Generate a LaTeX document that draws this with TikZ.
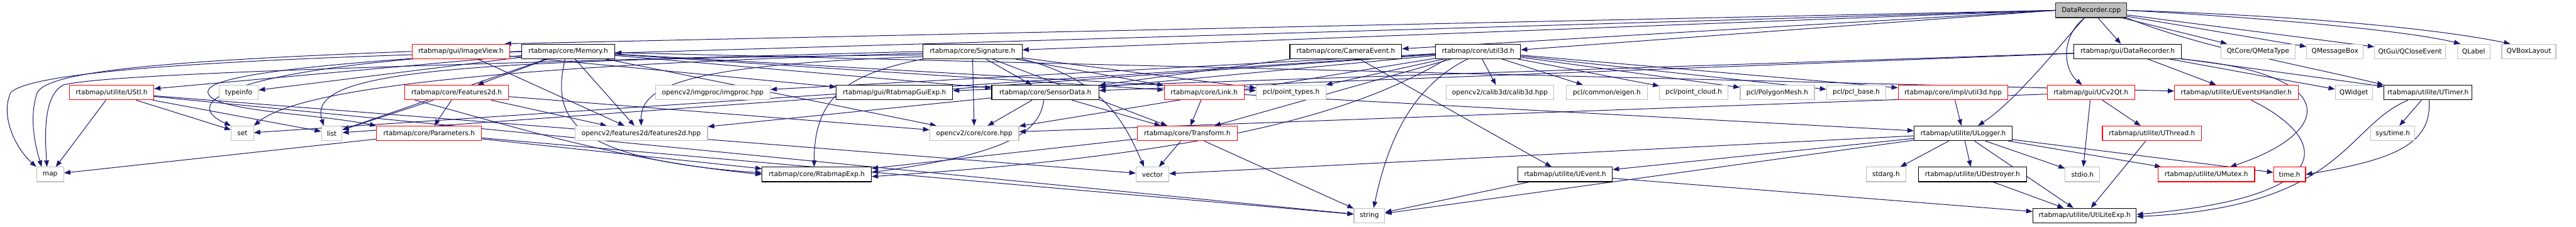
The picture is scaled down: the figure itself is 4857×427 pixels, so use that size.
\documentclass[tikz,border=0pt]{standalone}
\usepackage{fontspec}
\setmainfont{DejaVu Sans}
\usetikzlibrary{arrows.meta}
\definecolor{edgec}{HTML}{191970}
\definecolor{grayb}{HTML}{BFBFBF}
\definecolor{rootf}{HTML}{BFBFBF}
\pgfdeclarelayer{bg}
\pgfsetlayers{bg,main}
\begin{document}
\begin{tikzpicture}[x=1pt,y=-1pt,
 nd/.style={rectangle,draw,line width=1.3pt,minimum height=27.5pt,inner sep=0pt,font=\fontsize{12.5}{15}\selectfont,text=black,fill=white},
 blk/.style={nd,draw=black},
 redb/.style={nd,draw=red},
 gryb/.style={nd,draw=grayb},
 rootb/.style={nd,draw=black!85,fill=rootf},
 lnk/.style={draw=edgec,line width=1.2pt,-{Triangle[length=12pt,width=9pt]}}]
\useasboundingbox (0,0) rectangle (4857,427);
% row 0
\node[rootb,minimum width=134pt] (drc) at (3943,19.5) {DataRecorder.cpp};
% row 1
\node[redb,minimum width=184pt] (imageview) at (869,97) {rtabmap/gui/ImageView.h};
\node[blk,minimum width=175pt] (memory) at (1071.5,97) {rtabmap/core/Memory.h};
\node[blk,minimum width=187pt] (signature) at (1833.5,97) {rtabmap/core/Signature.h};
\node[blk,minimum width=211pt] (cameraevent) at (2537.5,97) {rtabmap/core/CameraEvent.h};
\node[blk,minimum width=160pt] (util3d) at (2787,97) {rtabmap/core/util3d.h};
\node[blk,minimum width=203pt] (drh) at (4011.5,97) {rtabmap/gui/DataRecorder.h};
\node[gryb,minimum width=139pt] (qmeta) at (4257.5,97) {QtCore/QMetaType};
\node[gryb,minimum width=107pt] (qmsg) at (4402.5,97) {QMessageBox};
\node[gryb,minimum width=134pt] (qclose) at (4544,97) {QtGui/QCloseEvent};
\node[gryb,minimum width=62pt] (qlabel) at (4664,97) {QLabel};
\node[gryb,minimum width=102pt] (qvbox) at (4768,97) {QVBoxLayout};
% row 2
\node[redb,minimum width=159pt] (ustl) at (210.5,174.5) {rtabmap/utilite/UStl.h};
\node[gryb,minimum width=74pt] (typeinfo) at (450,174.5) {typeinfo};
\node[redb,minimum width=196pt] (features2d) at (861,174.5) {rtabmap/core/Features2d.h};
\node[gryb,minimum width=216pt] (imgproc) at (1344,174.5) {opencv2/imgproc/imgproc.hpp};
\node[blk,minimum width=219pt] (guiexp) at (1686.5,174.5) {rtabmap/gui/RtabmapGuiExp.h};
\node[blk,minimum width=202pt] (sensordata) at (1971,174.5) {rtabmap/core/SensorData.h};
\node[redb,minimum width=151pt] (link) at (2270.5,174.5) {rtabmap/core/Link.h};
\node[gryb,minimum width=131pt] (pointtypes) at (2434.5,174.5) {pcl/point\_types.h};
\node[gryb,minimum width=202pt] (calib3d) at (2828,174.5) {opencv2/calib3d/calib3d.hpp};
\node[gryb,minimum width=153pt] (eigen) at (3029.5,174.5) {pcl/common/eigen.h};
\node[gryb,minimum width=129pt] (pointcloud) at (3193.5,174.5) {pcl/point\_cloud.h};
\node[gryb,minimum width=140pt] (polymesh) at (3351,174.5) {pcl/PolygonMesh.h};
\node[gryb,minimum width=112pt] (pclbase) at (3500,174.5) {pcl/pcl\_base.h};
\node[redb,minimum width=207pt] (util3dhpp) at (3682.5,174.5) {rtabmap/core/impl/util3d.hpp};
\node[redb,minimum width=165pt] (ucv2qt) at (3942.5,174.5) {rtabmap/gui/UCv2Qt.h};
\node[redb,minimum width=233pt] (ueh) at (4216.5,174.5) {rtabmap/utilite/UEventsHandler.h};
\node[gryb,minimum width=70pt] (qwidget) at (4438,174.5) {QWidget};
\node[blk,minimum width=166pt] (utimer) at (4578,174.5) {rtabmap/utilite/UTimer.h};
% row 3
\node[gryb,minimum width=42pt] (set) at (457,251.5) {set};
\node[gryb,minimum width=39pt] (list) at (625.5,251.5) {list};
\node[redb,minimum width=198pt] (parameters) at (809,251.5) {rtabmap/core/Parameters.h};
\node[gryb,minimum width=250pt] (f2dhpp) at (1209,251.5) {opencv2/features2d/features2d.hpp};
\node[gryb,minimum width=168pt] (corehpp) at (1837,251.5) {opencv2/core/core.hpp};
\node[redb,minimum width=189pt] (transform) at (2238.5,251.5) {rtabmap/core/Transform.h};
\node[blk,minimum width=185pt] (ulogger) at (3701.5,251.5) {rtabmap/utilite/ULogger.h};
\node[redb,minimum width=187pt] (uthread) at (4057.5,251.5) {rtabmap/utilite/UThread.h};
\node[gryb,minimum width=83pt] (systime) at (4511.5,251.5) {sys/time.h};
% row 4
\node[gryb,minimum width=51pt] (map) at (94.5,329) {map};
\node[blk,minimum width=206pt] (rtabexp) at (1540,329) {rtabmap/core/RtabmapExp.h};
\node[gryb,minimum width=62pt] (vector) at (2173,329) {vector};
\node[blk,minimum width=178pt] (uevent) at (2951,329) {rtabmap/utilite/UEvent.h};
\node[gryb,minimum width=74pt] (stdarg) at (3556,329) {stdarg.h};
\node[blk,minimum width=204pt] (udestroyer) at (3719,329) {rtabmap/utilite/UDestroyer.h};
\node[gryb,minimum width=65pt] (stdio) at (3926.5,329) {stdio.h};
\node[redb,minimum width=182pt] (umutex) at (4160,329) {rtabmap/utilite/UMutex.h};
\node[redb,minimum width=60pt] (timeh) at (4317,329) {time.h};
% row 5
\node[gryb,minimum width=58pt] (string) at (2582,406.5) {string};
\node[blk,minimum width=195pt] (utilexp) at (3930.5,406.5) {rtabmap/utilite/UtiLiteExp.h};

\begin{pgfonlayer}{bg}
% ---- DataRecorder.cpp
\draw[lnk] (drc) -- (drh);
\draw[lnk] (drc) -- (qmeta);
\draw[lnk] (drc) -- (qmsg);
\draw[lnk] (drc) -- (qclose);
\draw[lnk] (drc.east) .. controls (4300,35) and (4550,60) .. ([xshift=-25pt]qlabel.north);
\draw[lnk] (drc.east) .. controls (4350,30) and (4600,55) .. ([xshift=-35pt]qvbox.north);
\draw[lnk] (drc.south east) .. controls (4150,90) and (4350,125) .. (utimer.north west);
\draw[lnk] ([xshift=-13pt]drc.south) .. controls (3885,70) and (3890,130) .. ([xshift=-17pt]ucv2qt.north);
\draw[lnk] ([xshift=-13pt]drc.south) .. controls (3880,90) and (3800,190) .. ([xshift=28pt]ulogger.north);
\draw[lnk] (drc.west) -- ([yshift=-3pt]memory.east);
\draw[lnk] (drc.west) -- ([yshift=3pt]signature.east);
\draw[lnk] (drc.west) -- ([yshift=5pt]cameraevent.east);
\draw[lnk] (drc.west) -- ([yshift=3pt]util3d.east);
\draw[lnk] (drc.west) -- ([xshift=-10pt]imageview.north east);
% ---- DataRecorder.h
\draw[lnk] (drh) -- (guiexp);
\draw[lnk] (drh) -- (sensordata);
\draw[lnk] (drh) -- (ueh);
\draw[lnk] (drh) -- (qwidget);
\draw[lnk] (drh) -- (utimer);
\draw[lnk] (drh.south east) .. controls (4420,140) and (4400,250) .. ([xshift=45pt]umutex.north);
% ---- UEventsHandler, UTimer
\draw[lnk] ([xshift=28pt]ueh.south) .. controls (4390,260) and (4420,370) .. ([yshift=2pt]utilexp.east);
\draw[lnk] (utimer) -- (systime);
\draw[lnk] ([xshift=2pt]utimer.south) .. controls (4585,270) and (4520,300) .. (timeh.east);
\draw[lnk] ([xshift=-38pt]utimer.south) .. controls (4420,240) and (4420,390) .. ([yshift=-2pt]utilexp.east);
% ---- UCv2Qt, UThread
\draw[lnk] (ucv2qt) -- (stdio);
\draw[lnk] (ucv2qt) -- (uthread);
\draw[lnk] (ucv2qt) -- (corehpp);
\draw[lnk] (uthread) -- (utilexp);
% ---- ULogger
\draw[lnk] (ulogger) -- (stdarg);
\draw[lnk] (ulogger) -- (udestroyer);
\draw[lnk] (ulogger) -- (utilexp);
\draw[lnk] (ulogger) -- (stdio);
\draw[lnk] (ulogger) -- (umutex);
\draw[lnk] (ulogger) -- (timeh);
\draw[lnk] (ulogger) -- (uevent);
\draw[lnk] (ulogger) -- (string);
\draw[lnk] (ulogger) -- (vector);
\draw[lnk] (udestroyer) -- (utilexp);
\draw[lnk] (uevent) -- (string);
\draw[lnk] (uevent) -- (utilexp);
\draw[lnk] (util3dhpp) -- (ulogger);
% ---- Link, Transform, SensorData, CameraEvent
\draw[lnk] (link) -- (transform);
\draw[lnk] (link) -- (ulogger);
\draw[lnk] (transform) -- (vector);
\draw[lnk] (transform) -- (string);
\draw[lnk] (transform) -- (rtabexp);
\draw[lnk] (sensordata) -- (corehpp);
\draw[lnk] (sensordata) -- (transform);
\draw[lnk] (sensordata) -- (f2dhpp);
\draw[lnk] ([xshift=-3pt]sensordata.south) .. controls (1960,250) and (1900,290) .. ([yshift=4pt]rtabexp.east);
\draw[lnk] (cameraevent) -- (sensordata);
\draw[lnk] (cameraevent) -- (uevent);
% ---- Signature
\draw[lnk] (signature) -- (sensordata);
\draw[lnk] (signature) -- (corehpp);
\draw[lnk] (signature) -- (transform);
\draw[lnk] (signature.south east) .. controls (2080,150) and (2120,230) .. ([xshift=-16pt]vector.north);
\draw[lnk] (signature) -- (link);
\draw[lnk] (signature) -- (pointtypes);
\draw[lnk] (signature.south west) .. controls (1600,140) and (1535,180) .. ([xshift=-5pt]rtabexp.north);
\draw[lnk] (signature.186) .. controls (1300,122) and (1207,160) .. (f2dhpp.north);
\draw[lnk] (signature.184) .. controls (800,112) and (580,140) .. ([xshift=-15pt]list.north);
\draw[lnk] (signature.182) .. controls (900,125) and (560,170) .. (set.north east);
\draw[lnk] (signature.180) .. controls (700,125) and (200,140) .. (120,160) .. controls (80,180) and (85,260) .. ([xshift=-6pt]map.north);
% ---- Memory
\draw[lnk] (memory) -- (typeinfo);
\draw[lnk] (memory) -- (ustl);
\draw[lnk] (memory) -- (features2d);
\draw[lnk] (memory.west) .. controls (500,125) and (370,150) .. (395,180) .. controls (415,210) and (600,215) .. (parameters.north west);
\draw[lnk] (memory) -- (list);
\draw[lnk] (memory.west) .. controls (450,125) and (330,190) .. (set.north west);
\draw[lnk] (memory.west) .. controls (500,110) and (60,130) .. (20,175) .. controls (0,220) and (30,280) .. (map.north west);
\draw[lnk] (memory) -- (f2dhpp);
\draw[lnk] (memory) -- (corehpp);
\draw[lnk] ([xshift=-6pt]memory.south) .. controls (1040,220) and (1070,300) .. ([yshift=3pt]rtabexp.west);
\draw[lnk] (memory) -- (sensordata);
\draw[lnk] (memory) -- (link);
\draw[lnk] (memory) -- (pointtypes);
\draw[lnk] (memory) -- (ueh);
% ---- ImageView
\draw[lnk] (imageview) -- (guiexp);
\draw[lnk] (imageview) -- (f2dhpp);
\draw[lnk] (imageview.west) .. controls (300,115) and (90,135) .. (70,175) .. controls (55,220) and (65,270) .. ([xshift=-16pt]map.north);
% ---- Features2d
\draw[lnk] (features2d) -- (parameters);
\draw[lnk] (features2d) -- (list);
\draw[lnk] (features2d) -- (f2dhpp);
\draw[lnk] (features2d) -- (corehpp);
\draw[lnk] ([xshift=20pt]features2d.south west) .. controls (960,235) and (1150,300) .. (rtabexp.west);
% ---- Parameters, UStl
\draw[lnk] (parameters) -- (map);
\draw[lnk] (parameters) -- (rtabexp);
\draw[lnk] (parameters) -- (string);
\draw[lnk] (ustl) -- (map);
\draw[lnk] (ustl) -- (set);
\draw[lnk] (ustl) -- (list);
\draw[lnk] (ustl) -- (vector);
\draw[lnk] (ustl) -- (string);
% ---- util3d
\draw[lnk] (util3d) -- (calib3d);
\draw[lnk] (util3d) -- (eigen);
\draw[lnk] (util3d) -- (pointcloud);
\draw[lnk] (util3d) -- (polymesh);
\draw[lnk] (util3d) -- (pclbase);
\draw[lnk] (util3d) -- (util3dhpp);
\draw[lnk] (util3d) -- (pointtypes);
\draw[lnk] (util3d) -- (sensordata);
\draw[lnk] (util3d) -- (transform);
\draw[lnk] (util3d) -- (corehpp);
\draw[lnk] (util3d) -- (imgproc);
\draw[lnk] (util3d) -- (set);
\draw[lnk] (util3d) -- (list);
\draw[lnk] ([xshift=-60pt]util3d.south) .. controls (2560,210) and (2300,290) .. ([yshift=-4pt]rtabexp.east);
\draw[lnk] ([xshift=-20pt]util3d.south) .. controls (2670,160) and (2620,250) .. ([xshift=8pt]string.north);
\end{pgfonlayer}
\end{tikzpicture}
\end{document}
